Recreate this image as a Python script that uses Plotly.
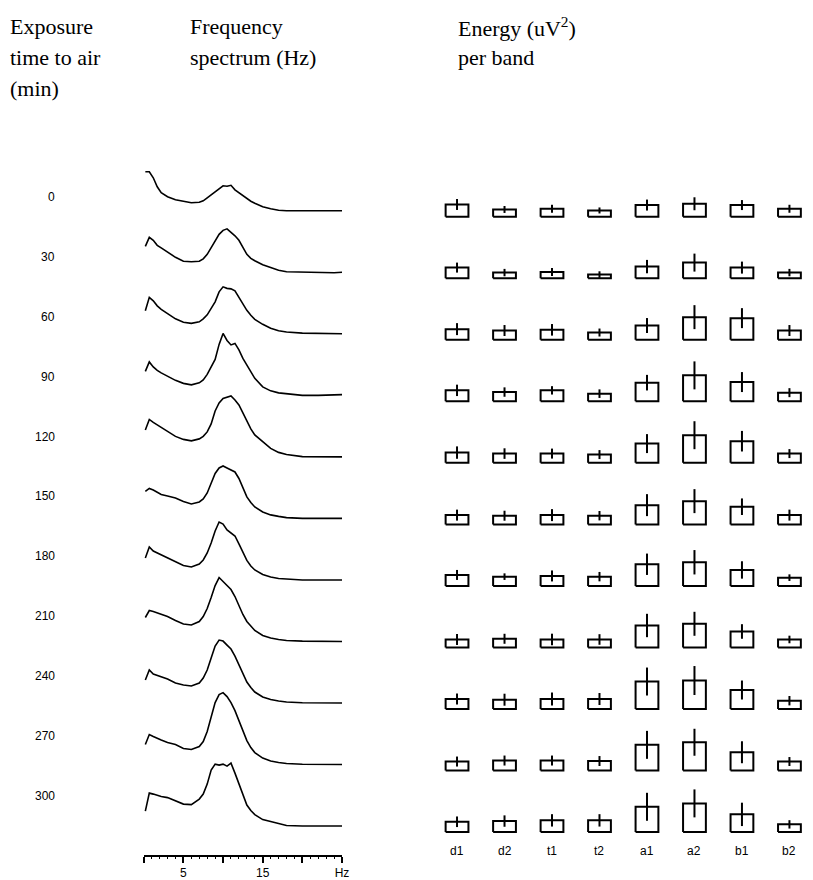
import plotly.graph_objects as go

# ---------------------------------------------------------------------------
# Data
# ---------------------------------------------------------------------------
EXPOSURE_MIN = [0, 30, 60, 90, 120, 150, 180, 210, 240, 270, 300]

# Frequency grid of the averaged spectra (Hz)
FREQ = [0.2, 0.7, 1.2, 1.7, 2.2, 3, 4, 5, 6, 7, 7.5, 8, 8.5, 9, 9.5, 10,
        10.5, 11, 11.5, 12, 12.5, 13, 13.5, 14, 15, 16, 17, 18, 20, 22, 24, 25]

# Spectral amplitude (arbitrary units) for each exposure time
SPEC_0 = [39, 39, 33, 24, 18, 14, 11, 9.5, 8, 8.5, 10, 13, 16, 19, 22, 25,
          24.5, 25.5, 21, 18, 15, 12, 9.5, 7.5, 4, 2, 0.5, 0, 0, 0, 0.3, 0]
SPEC_30 = [26, 35, 32, 27, 24.5, 20.5, 15, 11, 10.5, 11, 13.5, 18, 25, 32, 38, 42,
           43.5, 40, 36.5, 32, 25, 18, 14, 11.5, 7.5, 4.5, 2, 0.5, 0, 0, -0.5, 0]
SPEC_60 = [23, 36.5, 33, 28, 24.5, 20.5, 15, 11.5, 10.5, 12, 15, 19, 25, 32, 42, 47,
           45.5, 45, 43, 36.5, 29.5, 23.5, 18.5, 14.5, 9.5, 5.5, 3, 1.8, 0.7, 0.3, 0, 0]
SPEC_90 = [24, 33.5, 28.5, 25, 22.5, 19, 15, 12, 10.5, 12.5, 15.5, 21, 28, 36, 51, 62,
           55, 50.5, 52, 45.5, 37, 30, 24, 17, 8.5, 4.5, 2.5, 1.5, 0, 0, 0.3, 0.7]
SPEC_120 = [27, 37.5, 34.5, 32, 29.5, 25, 20.5, 17.5, 16, 18, 20.5, 25, 33, 46, 54, 58.5,
            60, 61, 57, 52, 44, 36, 28, 22, 15, 8.5, 4.5, 2.3, 0.3, 0, 0, 0]
SPEC_150 = [27, 30, 28.5, 26, 24, 22.5, 20.5, 17, 14.5, 16.5, 19.5, 25.5, 35, 45, 50.5, 52.5,
            50.5, 48.5, 46.5, 40, 30, 21.5, 16, 11.5, 6.5, 3.5, 2, 0.8, 0, 0, 0, 0]
SPEC_180 = [22, 33, 29, 27, 25, 22, 18, 14.5, 13, 16, 20, 27, 37, 49, 58, 56,
            50, 47, 44, 36, 27, 19.5, 14, 10, 5.5, 3, 1.5, 0.8, 0, 0, 0, 0]
SPEC_210 = [24, 31, 30, 28.5, 27, 25, 21, 17.5, 16.5, 20, 25, 33, 44, 56, 64, 60,
            55, 52, 45, 36, 27, 20, 15, 11, 6, 3.5, 2, 1, 0.3, 0, 0, 0]
SPEC_240 = [23, 33, 29, 27.5, 26, 24, 20, 18, 17, 20, 25, 33, 45, 57, 63, 62,
            58, 54, 47, 38, 29, 21, 15.5, 11, 6, 3.5, 2, 1, 0.3, 0, 0, 0]
SPEC_270 = [20, 30, 28, 26, 24.5, 22, 20, 16, 15, 18, 23, 33, 48, 62, 70, 72,
            68, 62, 54, 44, 33, 24, 17, 12, 6.5, 3.5, 2, 1, 0.3, 0, 0, 0]
SPEC_300 = [15, 33, 32, 30.5, 29.5, 28.5, 25, 22, 21.5, 27, 32, 42, 56, 62, 61, 62,
            60, 63, 53, 43, 32, 21, 15.5, 11.5, 6.5, 4.3, 2, 0.5, 0, 0, -0.5, 0]

SPECTRA = [SPEC_0, SPEC_30, SPEC_60, SPEC_90, SPEC_120, SPEC_150,
           SPEC_180, SPEC_210, SPEC_240, SPEC_270, SPEC_300]

# Frequency axis: labelled and unlabelled major ticks (Hz)
FREQ_TICKS_LABELLED = [5, 15, 25]
FREQ_TICK_TEXT = ["5", "15", "Hz"]
FREQ_TICKS_PLAIN = [0, 10, 20]

BANDS = ["d1", "d2", "t1", "t2", "a1", "a2", "b1", "b2"]

# Mean energy per band (arbitrary units), one row per exposure time
ENERGY_MEAN = [
    [12.3, 7.3, 8.0, 6.3, 11.7, 13.0, 11.7, 8.0],      # 0
    [10.7, 5.7, 6.3, 3.7, 11.7, 15.7, 10.7, 5.7],      # 30
    [10.7, 9.3, 10.0, 7.3, 14.3, 22.7, 21.7, 9.3],     # 60
    [11.0, 9.3, 11.0, 7.7, 18.7, 26.0, 19.3, 8.7],     # 90
    [10.3, 9.3, 9.3, 8.3, 19.3, 27.7, 21.7, 9.3],      # 120
    [9.3, 8.7, 9.3, 8.7, 19.3, 23.3, 17.7, 9.3],       # 150
    [11.0, 9.3, 10.0, 9.3, 21.7, 23.7, 16.0, 8.3],     # 180
    [8.0, 8.7, 8.0, 8.0, 22.0, 23.7, 16.0, 8.0],       # 210
    [10.0, 9.3, 10.0, 10.0, 27.5, 28.5, 19.0, 8.3],    # 240
    [9.0, 10.0, 10.0, 9.5, 25.7, 28.3, 18.3, 9.0],     # 270
    [10.3, 11.0, 11.7, 11.7, 25.3, 28.7, 17.7, 7.7],   # 300
]

# Standard deviation of the energy per band (same units)
ENERGY_SD = [
    [5.5, 3.5, 4.0, 3.0, 5.5, 6.5, 5.0, 4.0],
    [5.0, 3.7, 4.0, 3.3, 6.7, 9.0, 6.0, 3.7],
    [6.0, 5.5, 5.8, 4.0, 7.5, 12.0, 10.0, 5.5],
    [5.7, 4.7, 4.2, 4.3, 7.8, 14.0, 10.0, 4.5],
    [6.2, 5.3, 5.0, 4.5, 9.5, 14.0, 10.3, 4.5],
    [5.5, 5.0, 6.0, 4.7, 11.0, 12.0, 8.3, 5.5],
    [5.0, 3.3, 5.5, 4.7, 10.7, 12.2, 8.7, 3.3],
    [5.5, 5.0, 5.8, 5.3, 11.7, 12.0, 7.3, 3.8],
    [5.5, 6.0, 6.5, 6.0, 14.0, 14.5, 9.5, 4.7],
    [5.0, 5.0, 5.0, 5.0, 14.0, 13.5, 11.0, 4.5],
    [5.3, 5.7, 6.2, 6.2, 14.0, 14.0, 11.7, 4.2],
]

# ---------------------------------------------------------------------------
# Layout constants (figure is 813 x 880 px, no margins)
# ---------------------------------------------------------------------------
W, H = 813, 880
ROW_STEP = 61.6           # vertical distance between successive rows
FIRST_ROW_PX = 217        # baseline of the first row of band boxes
SPEC_LIFT = 6             # spectra sit a little above the box baseline
BOX_HALF = 0.24           # half width of a band box (band units)
BAND_X0_PX, BAND_DX_PX = 461, 47.9
SPEC_X0_PX, SPEC_X1_PX = 145, 345
AXIS_PX = 857
LABEL_TOP_PX, LABEL_STEP_PX = 197, 60

SERIF = "Liberation Serif"
SMALL = "Liberation Sans"


def py(px):
    """Vertical pixel -> paper fraction."""
    return 1 - px / H


fig = go.Figure()

# Stacked spectra, one per exposure time
for i, amp in enumerate(SPECTRA):
    base = -ROW_STEP * i + SPEC_LIFT
    fig.add_trace(go.Scatter(
        x=FREQ, y=[base + a for a in amp], mode="lines",
        line=dict(color="black", width=1.6), xaxis="x", yaxis="y",
        hoverinfo="skip", showlegend=False))

# Energy-per-band boxes (mean) with a vertical SD bar centred on the box top
for i in range(len(EXPOSURE_MIN)):
    base = -ROW_STEP * i
    bx, by, lx, ly = [], [], [], []
    for j, (m, s) in enumerate(zip(ENERGY_MEAN[i], ENERGY_SD[i])):
        top = base + m
        bx += [j - BOX_HALF, j - BOX_HALF, j + BOX_HALF, j + BOX_HALF, j - BOX_HALF, None]
        by += [base, top, top, base, base, None]
        lx += [j, j, None]
        ly += [top - s, top + s, None]
    fig.add_trace(go.Scatter(
        x=bx, y=by, mode="lines", line=dict(color="black", width=2),
        xaxis="x2", yaxis="y", hoverinfo="skip", showlegend=False))
    fig.add_trace(go.Scatter(
        x=lx, y=ly, mode="lines", line=dict(color="black", width=2),
        xaxis="x2", yaxis="y", hoverinfo="skip", showlegend=False))

ann = []
# Column headers
for txt, x, ypx in [("Exposure", 8, 27), ("time to air", 8, 58), ("(min)", 8, 89),
                    ("Frequency", 190, 27), ("spectrum (Hz)", 190, 58),
                    ("Energy (uV<sup>2</sup>)", 460, 27), ("per band", 460, 58)]:
    ann.append(dict(text=txt, x=x / W, y=py(ypx), xref="paper", yref="paper",
                    xanchor="left", yanchor="middle", showarrow=False,
                    font=dict(family=SERIF, size=22, color="black")))

# Exposure-time labels
for k, t in enumerate(EXPOSURE_MIN):
    ann.append(dict(text=str(t), x=57 / W, y=py(LABEL_TOP_PX + LABEL_STEP_PX * k),
                    xref="paper", yref="paper", xanchor="right", yanchor="middle",
                    showarrow=False, font=dict(family=SMALL, size=12, color="black")))

# Band labels
for j, b in enumerate(BANDS):
    ann.append(dict(text=b, x=j, y=py(852), xref="x2", yref="paper",
                    xanchor="center", yanchor="middle", showarrow=False,
                    font=dict(family=SMALL, size=12, color="black")))

y_top = FIRST_ROW_PX
y_bottom = FIRST_ROW_PX - H
spec_domain = [SPEC_X0_PX / W, SPEC_X1_PX / W]

fig.update_layout(
    width=W, height=H, margin=dict(l=0, r=0, t=0, b=0),
    paper_bgcolor="white", plot_bgcolor="rgba(0,0,0,0)",
    showlegend=False, annotations=ann,
    xaxis=dict(domain=spec_domain, range=[0, 25],
               anchor="free", position=py(AXIS_PX),
               showgrid=False, zeroline=False, showline=True,
               linecolor="black", linewidth=1.5,
               tickmode="array", tickvals=FREQ_TICKS_LABELLED,
               ticktext=FREQ_TICK_TEXT,
               ticks="outside", ticklen=6, tickwidth=1.5, tickcolor="black",
               tickfont=dict(family=SMALL, size=12, color="black"),
               minor=dict(ticks="outside", ticklen=2, dtick=1,
                          tickcolor="black", tickwidth=1)),
    # unlabelled major ticks of the frequency axis
    xaxis3=dict(domain=spec_domain, range=[0, 25], overlaying="x",
                anchor="free", position=py(AXIS_PX),
                showgrid=False, zeroline=False, showline=False,
                tickmode="array", tickvals=FREQ_TICKS_PLAIN,
                showticklabels=False,
                ticks="outside", ticklen=6, tickwidth=1.5, tickcolor="black"),
    xaxis2=dict(domain=[0, 1],
                range=[(0 - BAND_X0_PX) / BAND_DX_PX, (W - BAND_X0_PX) / BAND_DX_PX],
                anchor="y", visible=False),
    yaxis=dict(domain=[0, 1], range=[y_bottom, y_top], visible=False),
)

# an invisible trace keeps the overlaid tick axis active
fig.add_trace(go.Scatter(x=[0, 25], y=[0, 0], mode="lines",
                         line=dict(width=0, color="rgba(0,0,0,0)"),
                         xaxis="x3", yaxis="y", hoverinfo="skip",
                         showlegend=False))

fig.write_html("out.html")
